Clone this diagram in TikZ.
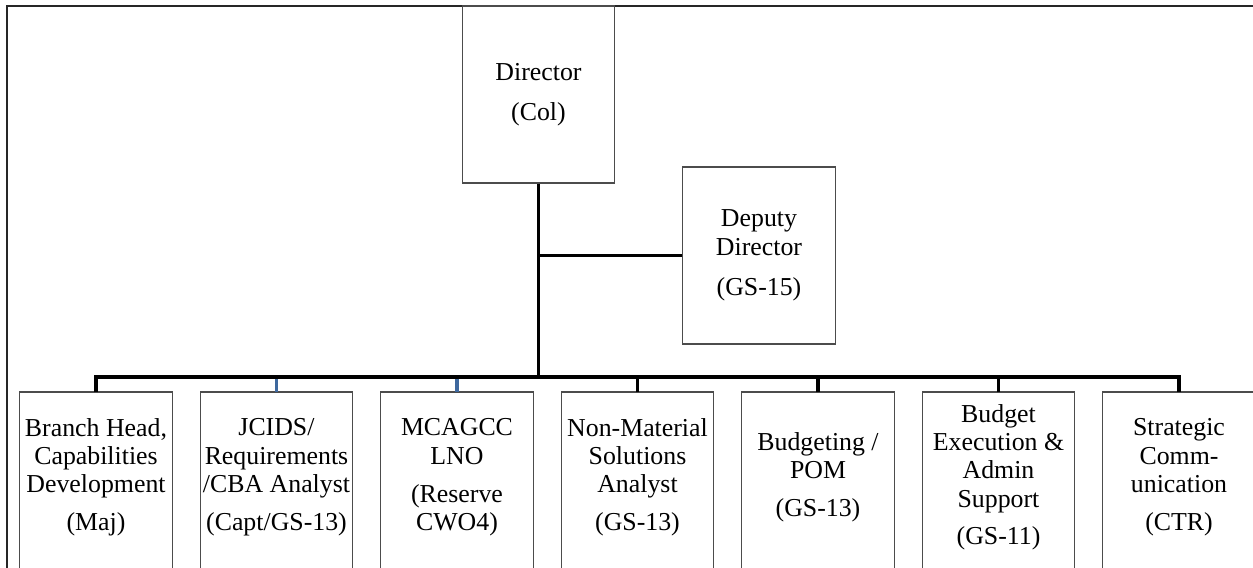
\documentclass[tikz,border=0pt]{standalone}
\usepackage{fontspec}
\setmainfont{Liberation Serif}
\usepackage{tikz}

\definecolor{dropblue}{RGB}{62,104,158}

\begin{document}
\begin{tikzpicture}[
  font=\fontsize{14.7pt}{16.1pt}\selectfont,
  post/.style={draw=black!70, line width=0.6pt, minimum width=3.05cm, minimum height=3.54cm, align=center, inner sep=1pt},
  staff/.style={minimum width=3.04cm, minimum height=3.4cm, align=center, inner sep=1pt, anchor=north},
  boxline/.style={draw=black!70, line width=0.6pt},
  bus/.style={line width=2.1pt},
  frame/.style={line width=0.75pt, black!85}]
\useasboundingbox (0,0) rectangle (25.06,-11.34);
\draw[frame] (0.14,-11.6) |- (25.3,-0.12);
\node[post] (dir) at (10.77,-1.89) {Director\\[7pt](Col)};
\node[post] (dep) at (15.18,-5.11) {Deputy\\Director\\[7pt](GS-15)};
\coordinate (hub) at (10.77,-7.54);
\node[staff] (head) at (1.92,-7.84) {Branch Head,\\Capabilities\\Development\\[5.5pt](Maj)};
\node[staff] (jcids) at (5.53,-7.84) {JCIDS/\\Requirements\\/CBA Analyst\\[5.5pt](Capt/GS-13)};
\node[staff] (lno) at (9.14,-7.84) {MCAGCC\\LNO\\[5.5pt](Reserve\\CWO4)};
\node[staff] (nonmat) at (12.75,-7.84) {Non-Material\\Solutions\\Analyst\\[5.5pt](GS-13)};
\node[staff] (pom) at (16.36,-7.84) {Budgeting /\\POM\\[5.5pt](GS-13)};
\node[staff] (exec) at (19.97,-7.84) {Budget\\Execution \&\\Admin\\Support\\[5.5pt](GS-11)};
\node[staff] (stratcom) at (23.58,-7.84) {Strategic\\Comm-\\unication\\[5.5pt](CTR)};
\foreach \n in {head,jcids,lno,nonmat,pom,exec,stratcom}
  \draw[boxline] ([yshift=-6mm]\n.south west) |- (\n.north east) -- ([yshift=-6mm]\n.south east);
\draw[bus] (dir.south) -- (hub);
\draw[bus] (dep.west) -- (dep.west -| hub);
\draw[bus] (head.north) |- (hub) -| (stratcom.north);
\draw[bus] (nonmat.north) -- (nonmat.north |- hub);
\draw[bus] (pom.north) -- (pom.north |- hub);
\draw[bus] (exec.north) -- (exec.north |- hub);
\draw[bus, dropblue] (jcids.north) -- ([yshift=-1.05pt]jcids.north |- hub);
\draw[bus, dropblue] (lno.north) -- ([yshift=-1.05pt]lno.north |- hub);
\end{tikzpicture}
\end{document}
